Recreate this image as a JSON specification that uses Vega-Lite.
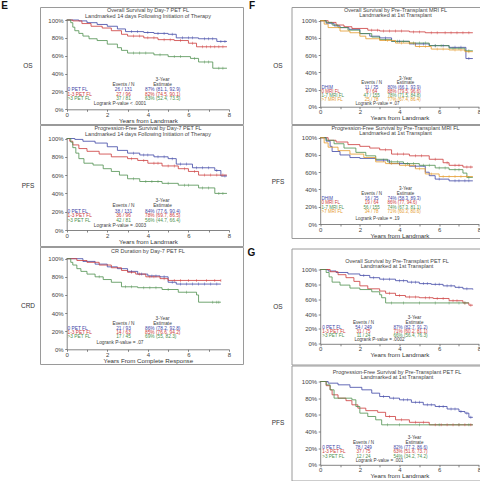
{
"$schema": "https://vega.github.io/schema/vega-lite/v6.json",
"autosize": {"type": "pad"},
"padding": {"left": 1, "top": 0, "right": 0, "bottom": 0},
"background": "white",
"config": {
  "font": "Liberation Sans",
  "view": {"stroke": "#9a9a9a", "strokeWidth": 1},
  "axis": {"grid": false, "labelFontSize": 6, "labelColor": "#444", "tickColor": "#666", "domainColor": "#666", "tickSize": 2, "domainWidth": 0.8, "tickWidth": 0.8, "titleFontSize": 6.2, "titleFontWeight": "normal", "titleColor": "#333", "labelFlush": false, "labelOverlap": false, "labelFont": "Liberation Sans", "titleFont": "Liberation Sans"},
  "axisX": {"labelPadding": 0, "titlePadding": 0},
  "axisY": {"labelPadding": 1.5},
  "title": {"fontWeight": "bold", "color": "#111", "font": "Liberation Sans", "fontSize": 10},
  "text": {"font": "Liberation Sans"},
  "concat": {"spacing": 0}
},
"datasets": {
"ttl": [
{"p":"EOS","ln":1,"txt":"Overall Survival by Day-7 PET FL"},{"p":"EOS","ln":2,"txt":"Landmarked 14 days Following Initiation of Therapy"},
{"p":"EPFS","ln":1,"txt":"Progression-Free Survival by Day-7 PET FL"},{"p":"EPFS","ln":2,"txt":"Landmarked 14 days Following Initiation of Therapy"},
{"p":"ECRD","ln":1,"txt":"CR Duration by Day-7 PET FL"},
{"p":"FOS","ln":1,"txt":"Overall Survival by Pre-Transplant MRI FL"},{"p":"FOS","ln":2,"txt":"Landmarked at 1st Transplant"},
{"p":"FPFS","ln":1,"txt":"Progression-Free Survival by Pre-Transplant MRI FL"},{"p":"FPFS","ln":2,"txt":"Landmarked at 1st Transplant"},
{"p":"GOS","ln":1,"txt":"Overall Survival by Pre-Transplant PET FL"},{"p":"GOS","ln":2,"txt":"Landmarked at 1st Transplant"},
{"p":"GPFS","ln":1,"txt":"Progression-Free Survival by Pre-Transplant PET FL"},{"p":"GPFS","ln":2,"txt":"Landmarked at 1st Transplant"}
],
"km": [
{"p":"EOS","g":"0 PET FL","t":0,"s":100},{"p":"EOS","g":"0 PET FL","t":0.6,"s":99},{"p":"EOS","g":"0 PET FL","t":1.0,"s":97},{"p":"EOS","g":"0 PET FL","t":1.5,"s":95},{"p":"EOS","g":"0 PET FL","t":2.0,"s":93},{"p":"EOS","g":"0 PET FL","t":2.5,"s":90},{"p":"EOS","g":"0 PET FL","t":2.9,"s":87},{"p":"EOS","g":"0 PET FL","t":3.8,"s":86},{"p":"EOS","g":"0 PET FL","t":4.3,"s":85},{"p":"EOS","g":"0 PET FL","t":5.0,"s":84},{"p":"EOS","g":"0 PET FL","t":5.4,"s":80},{"p":"EOS","g":"0 PET FL","t":6.5,"s":79},{"p":"EOS","g":"0 PET FL","t":7.4,"s":76},{"p":"EOS","g":"0 PET FL","t":7.9,"s":76},
{"p":"EOS","g":"1-3 PET FL","t":0,"s":100},{"p":"EOS","g":"1-3 PET FL","t":0.3,"s":99},{"p":"EOS","g":"1-3 PET FL","t":0.75,"s":96},{"p":"EOS","g":"1-3 PET FL","t":1.2,"s":93},{"p":"EOS","g":"1-3 PET FL","t":1.75,"s":91},{"p":"EOS","g":"1-3 PET FL","t":2.2,"s":88},{"p":"EOS","g":"1-3 PET FL","t":2.7,"s":84},{"p":"EOS","g":"1-3 PET FL","t":3.0,"s":82},{"p":"EOS","g":"1-3 PET FL","t":3.8,"s":80},{"p":"EOS","g":"1-3 PET FL","t":4.5,"s":78},{"p":"EOS","g":"1-3 PET FL","t":5.3,"s":77},{"p":"EOS","g":"1-3 PET FL","t":6.0,"s":74},{"p":"EOS","g":"1-3 PET FL","t":6.4,"s":70},{"p":"EOS","g":"1-3 PET FL","t":7.9,"s":70},
{"p":"EOS","g":">3 PET FL","t":0,"s":100},{"p":"EOS","g":">3 PET FL","t":0.2,"s":97},{"p":"EOS","g":">3 PET FL","t":0.3,"s":92},{"p":"EOS","g":">3 PET FL","t":0.4,"s":88},{"p":"EOS","g":">3 PET FL","t":0.6,"s":85},{"p":"EOS","g":">3 PET FL","t":0.8,"s":82},{"p":"EOS","g":">3 PET FL","t":1.1,"s":79},{"p":"EOS","g":">3 PET FL","t":1.5,"s":77},{"p":"EOS","g":">3 PET FL","t":2.0,"s":73},{"p":"EOS","g":">3 PET FL","t":2.5,"s":69},{"p":"EOS","g":">3 PET FL","t":2.7,"s":66},{"p":"EOS","g":">3 PET FL","t":3.0,"s":63},{"p":"EOS","g":">3 PET FL","t":4.3,"s":61},{"p":"EOS","g":">3 PET FL","t":5.0,"s":59},{"p":"EOS","g":">3 PET FL","t":6.1,"s":57},{"p":"EOS","g":">3 PET FL","t":6.5,"s":53},{"p":"EOS","g":">3 PET FL","t":7.2,"s":46},{"p":"EOS","g":">3 PET FL","t":7.9,"s":46},
{"p":"EPFS","g":"0 PET FL","t":0,"s":100},{"p":"EPFS","g":"0 PET FL","t":0.4,"s":99},{"p":"EPFS","g":"0 PET FL","t":0.8,"s":97},{"p":"EPFS","g":"0 PET FL","t":1.4,"s":95},{"p":"EPFS","g":"0 PET FL","t":2.0,"s":91},{"p":"EPFS","g":"0 PET FL","t":2.5,"s":87},{"p":"EPFS","g":"0 PET FL","t":3.0,"s":84},{"p":"EPFS","g":"0 PET FL","t":3.6,"s":82},{"p":"EPFS","g":"0 PET FL","t":4.3,"s":80},{"p":"EPFS","g":"0 PET FL","t":5.0,"s":78},{"p":"EPFS","g":"0 PET FL","t":5.4,"s":72},{"p":"EPFS","g":"0 PET FL","t":6.2,"s":68},{"p":"EPFS","g":"0 PET FL","t":7.3,"s":65},{"p":"EPFS","g":"0 PET FL","t":7.6,"s":59},{"p":"EPFS","g":"0 PET FL","t":7.9,"s":59},
{"p":"EPFS","g":"1-3 PET FL","t":0,"s":100},{"p":"EPFS","g":"1-3 PET FL","t":0.15,"s":97},{"p":"EPFS","g":"1-3 PET FL","t":0.3,"s":93},{"p":"EPFS","g":"1-3 PET FL","t":0.6,"s":89},{"p":"EPFS","g":"1-3 PET FL","t":1.0,"s":86},{"p":"EPFS","g":"1-3 PET FL","t":1.6,"s":83},{"p":"EPFS","g":"1-3 PET FL","t":2.2,"s":80},{"p":"EPFS","g":"1-3 PET FL","t":3.0,"s":78},{"p":"EPFS","g":"1-3 PET FL","t":3.5,"s":76},{"p":"EPFS","g":"1-3 PET FL","t":4.0,"s":73},{"p":"EPFS","g":"1-3 PET FL","t":4.7,"s":70},{"p":"EPFS","g":"1-3 PET FL","t":5.5,"s":67},{"p":"EPFS","g":"1-3 PET FL","t":6.0,"s":64},{"p":"EPFS","g":"1-3 PET FL","t":6.5,"s":60},{"p":"EPFS","g":"1-3 PET FL","t":7.9,"s":60},
{"p":"EPFS","g":">3 PET FL","t":0,"s":100},{"p":"EPFS","g":">3 PET FL","t":0.2,"s":96},{"p":"EPFS","g":">3 PET FL","t":0.3,"s":90},{"p":"EPFS","g":">3 PET FL","t":0.45,"s":84},{"p":"EPFS","g":">3 PET FL","t":0.6,"s":78},{"p":"EPFS","g":">3 PET FL","t":0.85,"s":73},{"p":"EPFS","g":">3 PET FL","t":1.3,"s":71},{"p":"EPFS","g":">3 PET FL","t":1.8,"s":67},{"p":"EPFS","g":">3 PET FL","t":2.2,"s":64},{"p":"EPFS","g":">3 PET FL","t":2.6,"s":60},{"p":"EPFS","g":">3 PET FL","t":3.0,"s":56},{"p":"EPFS","g":">3 PET FL","t":3.6,"s":53},{"p":"EPFS","g":">3 PET FL","t":4.7,"s":51},{"p":"EPFS","g":">3 PET FL","t":5.5,"s":49},{"p":"EPFS","g":">3 PET FL","t":6.5,"s":46},{"p":"EPFS","g":">3 PET FL","t":7.3,"s":40},{"p":"EPFS","g":">3 PET FL","t":7.9,"s":40},
{"p":"ECRD","g":"0 PET FL","t":0,"s":100},{"p":"ECRD","g":"0 PET FL","t":0.8,"s":97},{"p":"ECRD","g":"0 PET FL","t":1.4,"s":94},{"p":"ECRD","g":"0 PET FL","t":2.0,"s":91},{"p":"ECRD","g":"0 PET FL","t":2.5,"s":89},{"p":"ECRD","g":"0 PET FL","t":3.0,"s":86},{"p":"ECRD","g":"0 PET FL","t":3.5,"s":83},{"p":"ECRD","g":"0 PET FL","t":4.0,"s":81},{"p":"ECRD","g":"0 PET FL","t":4.6,"s":80},{"p":"ECRD","g":"0 PET FL","t":5.0,"s":74},{"p":"ECRD","g":"0 PET FL","t":5.4,"s":72},{"p":"ECRD","g":"0 PET FL","t":7.6,"s":72},
{"p":"ECRD","g":"1-3 PET FL","t":0,"s":100},{"p":"ECRD","g":"1-3 PET FL","t":0.5,"s":98},{"p":"ECRD","g":"1-3 PET FL","t":1.0,"s":96},{"p":"ECRD","g":"1-3 PET FL","t":1.6,"s":93},{"p":"ECRD","g":"1-3 PET FL","t":2.2,"s":90},{"p":"ECRD","g":"1-3 PET FL","t":2.7,"s":87},{"p":"ECRD","g":"1-3 PET FL","t":3.0,"s":85},{"p":"ECRD","g":"1-3 PET FL","t":3.4,"s":83},{"p":"ECRD","g":"1-3 PET FL","t":3.9,"s":80},{"p":"ECRD","g":"1-3 PET FL","t":4.6,"s":78},{"p":"ECRD","g":"1-3 PET FL","t":5.0,"s":76},{"p":"ECRD","g":"1-3 PET FL","t":7.6,"s":76},
{"p":"ECRD","g":">3 PET FL","t":0,"s":100},{"p":"ECRD","g":">3 PET FL","t":0.2,"s":96},{"p":"ECRD","g":">3 PET FL","t":0.3,"s":93},{"p":"ECRD","g":">3 PET FL","t":0.5,"s":89},{"p":"ECRD","g":">3 PET FL","t":0.7,"s":86},{"p":"ECRD","g":">3 PET FL","t":1.0,"s":83},{"p":"ECRD","g":">3 PET FL","t":1.4,"s":80},{"p":"ECRD","g":">3 PET FL","t":1.8,"s":77},{"p":"ECRD","g":">3 PET FL","t":2.2,"s":74},{"p":"ECRD","g":">3 PET FL","t":2.7,"s":69},{"p":"ECRD","g":">3 PET FL","t":3.5,"s":68},{"p":"ECRD","g":">3 PET FL","t":4.7,"s":66},{"p":"ECRD","g":">3 PET FL","t":5.5,"s":63},{"p":"ECRD","g":">3 PET FL","t":6.4,"s":60},{"p":"ECRD","g":">3 PET FL","t":6.5,"s":52},{"p":"ECRD","g":">3 PET FL","t":7.6,"s":52},
{"p":"FOS","g":"DHIM","t":0,"s":100},{"p":"FOS","g":"DHIM","t":0.3,"s":97},{"p":"FOS","g":"DHIM","t":0.7,"s":94},{"p":"FOS","g":"DHIM","t":1.0,"s":92},{"p":"FOS","g":"DHIM","t":1.45,"s":90},{"p":"FOS","g":"DHIM","t":2.0,"s":85},{"p":"FOS","g":"DHIM","t":2.5,"s":82},{"p":"FOS","g":"DHIM","t":3.0,"s":80},{"p":"FOS","g":"DHIM","t":3.6,"s":76},{"p":"FOS","g":"DHIM","t":4.5,"s":73},{"p":"FOS","g":"DHIM","t":5.5,"s":71},{"p":"FOS","g":"DHIM","t":6.5,"s":69},{"p":"FOS","g":"DHIM","t":7.35,"s":56},{"p":"FOS","g":"DHIM","t":7.7,"s":56},
{"p":"FOS","g":"0 MRI FL","t":0,"s":100},{"p":"FOS","g":"0 MRI FL","t":0.4,"s":98},{"p":"FOS","g":"0 MRI FL","t":0.8,"s":95},{"p":"FOS","g":"0 MRI FL","t":1.2,"s":93},{"p":"FOS","g":"0 MRI FL","t":1.6,"s":91},{"p":"FOS","g":"0 MRI FL","t":2.4,"s":89},{"p":"FOS","g":"0 MRI FL","t":3.0,"s":88},{"p":"FOS","g":"0 MRI FL","t":4.5,"s":87},{"p":"FOS","g":"0 MRI FL","t":5.3,"s":86},{"p":"FOS","g":"0 MRI FL","t":7.7,"s":86},
{"p":"FOS","g":"1-7 MRI FL","t":0,"s":100},{"p":"FOS","g":"1-7 MRI FL","t":0.3,"s":98},{"p":"FOS","g":"1-7 MRI FL","t":0.6,"s":95},{"p":"FOS","g":"1-7 MRI FL","t":0.9,"s":92},{"p":"FOS","g":"1-7 MRI FL","t":1.4,"s":89},{"p":"FOS","g":"1-7 MRI FL","t":2.0,"s":85},{"p":"FOS","g":"1-7 MRI FL","t":2.6,"s":81},{"p":"FOS","g":"1-7 MRI FL","t":3.0,"s":78},{"p":"FOS","g":"1-7 MRI FL","t":3.6,"s":76},{"p":"FOS","g":"1-7 MRI FL","t":4.5,"s":74},{"p":"FOS","g":"1-7 MRI FL","t":5.5,"s":71},{"p":"FOS","g":"1-7 MRI FL","t":6.5,"s":68},{"p":"FOS","g":"1-7 MRI FL","t":7.3,"s":65},{"p":"FOS","g":"1-7 MRI FL","t":7.7,"s":65},
{"p":"FOS","g":">7 MRI FL","t":0,"s":100},{"p":"FOS","g":">7 MRI FL","t":0.2,"s":96},{"p":"FOS","g":">7 MRI FL","t":0.4,"s":92},{"p":"FOS","g":">7 MRI FL","t":1.0,"s":88},{"p":"FOS","g":">7 MRI FL","t":1.5,"s":86},{"p":"FOS","g":">7 MRI FL","t":2.0,"s":82},{"p":"FOS","g":">7 MRI FL","t":2.3,"s":79},{"p":"FOS","g":">7 MRI FL","t":3.0,"s":77},{"p":"FOS","g":">7 MRI FL","t":3.8,"s":74},{"p":"FOS","g":">7 MRI FL","t":4.8,"s":70},{"p":"FOS","g":">7 MRI FL","t":5.6,"s":67},{"p":"FOS","g":">7 MRI FL","t":6.5,"s":66},{"p":"FOS","g":">7 MRI FL","t":7.3,"s":64},{"p":"FOS","g":">7 MRI FL","t":7.7,"s":64},
{"p":"FPFS","g":"0 MRI FL","t":0,"s":100},{"p":"FPFS","g":"0 MRI FL","t":0.4,"s":97},{"p":"FPFS","g":"0 MRI FL","t":0.8,"s":95},{"p":"FPFS","g":"0 MRI FL","t":1.4,"s":92},{"p":"FPFS","g":"0 MRI FL","t":2.0,"s":90},{"p":"FPFS","g":"0 MRI FL","t":2.5,"s":88},{"p":"FPFS","g":"0 MRI FL","t":3.0,"s":86},{"p":"FPFS","g":"0 MRI FL","t":3.6,"s":81},{"p":"FPFS","g":"0 MRI FL","t":4.5,"s":79},{"p":"FPFS","g":"0 MRI FL","t":5.5,"s":75},{"p":"FPFS","g":"0 MRI FL","t":6.2,"s":71},{"p":"FPFS","g":"0 MRI FL","t":6.5,"s":68},{"p":"FPFS","g":"0 MRI FL","t":7.2,"s":66},{"p":"FPFS","g":"0 MRI FL","t":7.7,"s":66},
{"p":"FPFS","g":"DHIM","t":0,"s":100},{"p":"FPFS","g":"DHIM","t":0.3,"s":96},{"p":"FPFS","g":"DHIM","t":0.5,"s":90},{"p":"FPFS","g":"DHIM","t":0.6,"s":84},{"p":"FPFS","g":"DHIM","t":1.0,"s":80},{"p":"FPFS","g":"DHIM","t":1.5,"s":77},{"p":"FPFS","g":"DHIM","t":2.0,"s":76},{"p":"FPFS","g":"DHIM","t":2.8,"s":74},{"p":"FPFS","g":"DHIM","t":3.5,"s":70},{"p":"FPFS","g":"DHIM","t":4.5,"s":67},{"p":"FPFS","g":"DHIM","t":5.3,"s":60},{"p":"FPFS","g":"DHIM","t":5.5,"s":56},{"p":"FPFS","g":"DHIM","t":5.8,"s":52},{"p":"FPFS","g":"DHIM","t":6.5,"s":50},{"p":"FPFS","g":"DHIM","t":7.7,"s":50},
{"p":"FPFS","g":"1-7 MRI FL","t":0,"s":100},{"p":"FPFS","g":"1-7 MRI FL","t":0.3,"s":97},{"p":"FPFS","g":"1-7 MRI FL","t":0.7,"s":93},{"p":"FPFS","g":"1-7 MRI FL","t":1.2,"s":88},{"p":"FPFS","g":"1-7 MRI FL","t":1.8,"s":83},{"p":"FPFS","g":"1-7 MRI FL","t":2.3,"s":79},{"p":"FPFS","g":"1-7 MRI FL","t":2.8,"s":75},{"p":"FPFS","g":"1-7 MRI FL","t":3.4,"s":72},{"p":"FPFS","g":"1-7 MRI FL","t":4.2,"s":70},{"p":"FPFS","g":"1-7 MRI FL","t":5.0,"s":68},{"p":"FPFS","g":"1-7 MRI FL","t":5.8,"s":65},{"p":"FPFS","g":"1-7 MRI FL","t":6.5,"s":63},{"p":"FPFS","g":"1-7 MRI FL","t":7.2,"s":59},{"p":"FPFS","g":"1-7 MRI FL","t":7.4,"s":54},{"p":"FPFS","g":"1-7 MRI FL","t":7.7,"s":54},
{"p":"FPFS","g":">7 MRI FL","t":0,"s":100},{"p":"FPFS","g":">7 MRI FL","t":0.2,"s":94},{"p":"FPFS","g":">7 MRI FL","t":0.4,"s":89},{"p":"FPFS","g":">7 MRI FL","t":0.9,"s":85},{"p":"FPFS","g":">7 MRI FL","t":1.5,"s":81},{"p":"FPFS","g":">7 MRI FL","t":2.2,"s":77},{"p":"FPFS","g":">7 MRI FL","t":2.8,"s":72},{"p":"FPFS","g":">7 MRI FL","t":3.3,"s":70},{"p":"FPFS","g":">7 MRI FL","t":4.0,"s":68},{"p":"FPFS","g":">7 MRI FL","t":4.8,"s":64},{"p":"FPFS","g":">7 MRI FL","t":5.3,"s":58},{"p":"FPFS","g":">7 MRI FL","t":6.0,"s":55},{"p":"FPFS","g":">7 MRI FL","t":7.7,"s":55},
{"p":"GOS","g":"0 PET FL","t":0,"s":100},{"p":"GOS","g":"0 PET FL","t":0.4,"s":98},{"p":"GOS","g":"0 PET FL","t":0.8,"s":96},{"p":"GOS","g":"0 PET FL","t":1.4,"s":94},{"p":"GOS","g":"0 PET FL","t":2.0,"s":92},{"p":"GOS","g":"0 PET FL","t":2.5,"s":89},{"p":"GOS","g":"0 PET FL","t":3.0,"s":87},{"p":"GOS","g":"0 PET FL","t":3.8,"s":85},{"p":"GOS","g":"0 PET FL","t":4.4,"s":83},{"p":"GOS","g":"0 PET FL","t":5.0,"s":81},{"p":"GOS","g":"0 PET FL","t":5.6,"s":80},{"p":"GOS","g":"0 PET FL","t":6.2,"s":78},{"p":"GOS","g":"0 PET FL","t":6.8,"s":76},{"p":"GOS","g":"0 PET FL","t":7.2,"s":74},{"p":"GOS","g":"0 PET FL","t":7.7,"s":73},
{"p":"GOS","g":"1-3 PET FL","t":0,"s":100},{"p":"GOS","g":"1-3 PET FL","t":0.5,"s":97},{"p":"GOS","g":"1-3 PET FL","t":0.9,"s":93},{"p":"GOS","g":"1-3 PET FL","t":1.3,"s":89},{"p":"GOS","g":"1-3 PET FL","t":1.7,"s":84},{"p":"GOS","g":"1-3 PET FL","t":2.0,"s":78},{"p":"GOS","g":"1-3 PET FL","t":2.4,"s":74},{"p":"GOS","g":"1-3 PET FL","t":3.0,"s":71},{"p":"GOS","g":"1-3 PET FL","t":3.3,"s":68},{"p":"GOS","g":"1-3 PET FL","t":3.8,"s":65},{"p":"GOS","g":"1-3 PET FL","t":4.3,"s":63},{"p":"GOS","g":"1-3 PET FL","t":5.0,"s":62},{"p":"GOS","g":"1-3 PET FL","t":5.7,"s":61},{"p":"GOS","g":"1-3 PET FL","t":6.5,"s":58},{"p":"GOS","g":"1-3 PET FL","t":7.2,"s":55},{"p":"GOS","g":"1-3 PET FL","t":7.5,"s":52},{"p":"GOS","g":"1-3 PET FL","t":7.7,"s":52},
{"p":"GOS","g":">3 PET FL","t":0,"s":100},{"p":"GOS","g":">3 PET FL","t":0.3,"s":96},{"p":"GOS","g":">3 PET FL","t":0.45,"s":90},{"p":"GOS","g":">3 PET FL","t":0.6,"s":83},{"p":"GOS","g":">3 PET FL","t":1.0,"s":79},{"p":"GOS","g":">3 PET FL","t":1.5,"s":75},{"p":"GOS","g":">3 PET FL","t":2.0,"s":73},{"p":"GOS","g":">3 PET FL","t":2.6,"s":70},{"p":"GOS","g":">3 PET FL","t":3.0,"s":66},{"p":"GOS","g":">3 PET FL","t":3.1,"s":62},{"p":"GOS","g":">3 PET FL","t":3.3,"s":55},{"p":"GOS","g":">3 PET FL","t":7.5,"s":55},
{"p":"GPFS","g":"0 PET FL","t":0,"s":100},{"p":"GPFS","g":"0 PET FL","t":0.4,"s":98},{"p":"GPFS","g":"0 PET FL","t":0.9,"s":96},{"p":"GPFS","g":"0 PET FL","t":1.5,"s":93},{"p":"GPFS","g":"0 PET FL","t":2.1,"s":90},{"p":"GPFS","g":"0 PET FL","t":2.6,"s":86},{"p":"GPFS","g":"0 PET FL","t":3.0,"s":82},{"p":"GPFS","g":"0 PET FL","t":3.5,"s":80},{"p":"GPFS","g":"0 PET FL","t":4.0,"s":78},{"p":"GPFS","g":"0 PET FL","t":4.6,"s":75},{"p":"GPFS","g":"0 PET FL","t":5.2,"s":72},{"p":"GPFS","g":"0 PET FL","t":5.8,"s":70},{"p":"GPFS","g":"0 PET FL","t":6.4,"s":67},{"p":"GPFS","g":"0 PET FL","t":7.0,"s":64},{"p":"GPFS","g":"0 PET FL","t":7.3,"s":62},{"p":"GPFS","g":"0 PET FL","t":7.5,"s":57},{"p":"GPFS","g":"0 PET FL","t":7.7,"s":57},
{"p":"GPFS","g":"1-3 PET FL","t":0,"s":100},{"p":"GPFS","g":"1-3 PET FL","t":0.3,"s":95},{"p":"GPFS","g":"1-3 PET FL","t":0.5,"s":90},{"p":"GPFS","g":"1-3 PET FL","t":0.6,"s":84},{"p":"GPFS","g":"1-3 PET FL","t":0.9,"s":80},{"p":"GPFS","g":"1-3 PET FL","t":1.3,"s":77},{"p":"GPFS","g":"1-3 PET FL","t":1.6,"s":72},{"p":"GPFS","g":"1-3 PET FL","t":1.9,"s":68},{"p":"GPFS","g":"1-3 PET FL","t":2.3,"s":65},{"p":"GPFS","g":"1-3 PET FL","t":2.9,"s":63},{"p":"GPFS","g":"1-3 PET FL","t":3.3,"s":58},{"p":"GPFS","g":"1-3 PET FL","t":3.8,"s":54},{"p":"GPFS","g":"1-3 PET FL","t":4.5,"s":51},{"p":"GPFS","g":"1-3 PET FL","t":5.5,"s":48},{"p":"GPFS","g":"1-3 PET FL","t":7.7,"s":48},
{"p":"GPFS","g":">3 PET FL","t":0,"s":100},{"p":"GPFS","g":">3 PET FL","t":0.3,"s":96},{"p":"GPFS","g":">3 PET FL","t":0.5,"s":90},{"p":"GPFS","g":">3 PET FL","t":0.7,"s":80},{"p":"GPFS","g":">3 PET FL","t":1.6,"s":78},{"p":"GPFS","g":">3 PET FL","t":1.8,"s":70},{"p":"GPFS","g":">3 PET FL","t":2.0,"s":62},{"p":"GPFS","g":">3 PET FL","t":2.4,"s":58},{"p":"GPFS","g":">3 PET FL","t":2.8,"s":54},{"p":"GPFS","g":">3 PET FL","t":3.1,"s":48},{"p":"GPFS","g":">3 PET FL","t":7.7,"s":48}
],
"cz": [
{"p":"EOS","g":"0 PET FL","t":3.2,"s":87},{"p":"EOS","g":"0 PET FL","t":3.5,"s":87},{"p":"EOS","g":"0 PET FL","t":4.0,"s":86},{"p":"EOS","g":"0 PET FL","t":4.5,"s":85},{"p":"EOS","g":"0 PET FL","t":4.8,"s":85},{"p":"EOS","g":"0 PET FL","t":5.2,"s":84},{"p":"EOS","g":"0 PET FL","t":5.7,"s":80},{"p":"EOS","g":"0 PET FL","t":6.0,"s":80},{"p":"EOS","g":"0 PET FL","t":6.2,"s":80},{"p":"EOS","g":"0 PET FL","t":6.8,"s":79},{"p":"EOS","g":"0 PET FL","t":7.0,"s":79},{"p":"EOS","g":"0 PET FL","t":7.2,"s":79},{"p":"EOS","g":"0 PET FL","t":7.6,"s":76},{"p":"EOS","g":"0 PET FL","t":7.8,"s":76},
{"p":"EOS","g":"1-3 PET FL","t":3.3,"s":82},{"p":"EOS","g":"1-3 PET FL","t":3.6,"s":82},{"p":"EOS","g":"1-3 PET FL","t":4.0,"s":80},{"p":"EOS","g":"1-3 PET FL","t":4.3,"s":80},{"p":"EOS","g":"1-3 PET FL","t":4.8,"s":78},{"p":"EOS","g":"1-3 PET FL","t":5.1,"s":78},{"p":"EOS","g":"1-3 PET FL","t":5.6,"s":77},{"p":"EOS","g":"1-3 PET FL","t":6.2,"s":74},{"p":"EOS","g":"1-3 PET FL","t":6.7,"s":70},{"p":"EOS","g":"1-3 PET FL","t":6.9,"s":70},{"p":"EOS","g":"1-3 PET FL","t":7.1,"s":70},{"p":"EOS","g":"1-3 PET FL","t":7.3,"s":70},{"p":"EOS","g":"1-3 PET FL","t":7.5,"s":70},{"p":"EOS","g":"1-3 PET FL","t":7.7,"s":70},
{"p":"EOS","g":">3 PET FL","t":3.3,"s":63},{"p":"EOS","g":">3 PET FL","t":3.6,"s":63},{"p":"EOS","g":">3 PET FL","t":3.9,"s":63},{"p":"EOS","g":">3 PET FL","t":4.6,"s":61},{"p":"EOS","g":">3 PET FL","t":5.3,"s":59},{"p":"EOS","g":">3 PET FL","t":5.6,"s":59},{"p":"EOS","g":">3 PET FL","t":6.3,"s":57},{"p":"EOS","g":">3 PET FL","t":6.8,"s":53},{"p":"EOS","g":">3 PET FL","t":7.0,"s":53},{"p":"EOS","g":">3 PET FL","t":7.5,"s":46},{"p":"EOS","g":">3 PET FL","t":7.7,"s":46},
{"p":"EPFS","g":"0 PET FL","t":3.3,"s":84},{"p":"EPFS","g":"0 PET FL","t":3.8,"s":82},{"p":"EPFS","g":"0 PET FL","t":4.0,"s":82},{"p":"EPFS","g":"0 PET FL","t":4.5,"s":80},{"p":"EPFS","g":"0 PET FL","t":4.8,"s":80},{"p":"EPFS","g":"0 PET FL","t":5.2,"s":78},{"p":"EPFS","g":"0 PET FL","t":5.6,"s":72},{"p":"EPFS","g":"0 PET FL","t":5.9,"s":72},{"p":"EPFS","g":"0 PET FL","t":6.4,"s":68},{"p":"EPFS","g":"0 PET FL","t":6.7,"s":68},{"p":"EPFS","g":"0 PET FL","t":7.0,"s":68},{"p":"EPFS","g":"0 PET FL","t":7.4,"s":65},{"p":"EPFS","g":"0 PET FL","t":7.8,"s":59},
{"p":"EPFS","g":"1-3 PET FL","t":3.2,"s":78},{"p":"EPFS","g":"1-3 PET FL","t":3.8,"s":76},{"p":"EPFS","g":"1-3 PET FL","t":4.3,"s":73},{"p":"EPFS","g":"1-3 PET FL","t":4.5,"s":73},{"p":"EPFS","g":"1-3 PET FL","t":5.0,"s":70},{"p":"EPFS","g":"1-3 PET FL","t":5.3,"s":70},{"p":"EPFS","g":"1-3 PET FL","t":5.8,"s":67},{"p":"EPFS","g":"1-3 PET FL","t":6.3,"s":64},{"p":"EPFS","g":"1-3 PET FL","t":6.8,"s":60},{"p":"EPFS","g":"1-3 PET FL","t":7.1,"s":60},{"p":"EPFS","g":"1-3 PET FL","t":7.4,"s":60},{"p":"EPFS","g":"1-3 PET FL","t":7.7,"s":60},
{"p":"EPFS","g":">3 PET FL","t":3.3,"s":56},{"p":"EPFS","g":">3 PET FL","t":3.9,"s":53},{"p":"EPFS","g":">3 PET FL","t":4.2,"s":53},{"p":"EPFS","g":">3 PET FL","t":4.5,"s":53},{"p":"EPFS","g":">3 PET FL","t":5.0,"s":51},{"p":"EPFS","g":">3 PET FL","t":5.8,"s":49},{"p":"EPFS","g":">3 PET FL","t":6.0,"s":49},{"p":"EPFS","g":">3 PET FL","t":6.7,"s":46},{"p":"EPFS","g":">3 PET FL","t":7.0,"s":46},{"p":"EPFS","g":">3 PET FL","t":7.5,"s":40},{"p":"EPFS","g":">3 PET FL","t":7.7,"s":40},
{"p":"ECRD","g":"0 PET FL","t":3.2,"s":86},{"p":"ECRD","g":"0 PET FL","t":3.7,"s":83},{"p":"ECRD","g":"0 PET FL","t":4.2,"s":81},{"p":"ECRD","g":"0 PET FL","t":4.4,"s":81},{"p":"ECRD","g":"0 PET FL","t":4.8,"s":80},{"p":"ECRD","g":"0 PET FL","t":5.2,"s":74},{"p":"ECRD","g":"0 PET FL","t":5.6,"s":72},{"p":"ECRD","g":"0 PET FL","t":5.9,"s":72},{"p":"ECRD","g":"0 PET FL","t":6.2,"s":72},{"p":"ECRD","g":"0 PET FL","t":6.5,"s":72},{"p":"ECRD","g":"0 PET FL","t":6.8,"s":72},{"p":"ECRD","g":"0 PET FL","t":7.1,"s":72},{"p":"ECRD","g":"0 PET FL","t":7.4,"s":72},
{"p":"ECRD","g":"1-3 PET FL","t":3.2,"s":85},{"p":"ECRD","g":"1-3 PET FL","t":3.6,"s":83},{"p":"ECRD","g":"1-3 PET FL","t":4.1,"s":80},{"p":"ECRD","g":"1-3 PET FL","t":4.3,"s":80},{"p":"ECRD","g":"1-3 PET FL","t":4.8,"s":78},{"p":"ECRD","g":"1-3 PET FL","t":5.3,"s":76},{"p":"ECRD","g":"1-3 PET FL","t":5.6,"s":76},{"p":"ECRD","g":"1-3 PET FL","t":6.0,"s":76},{"p":"ECRD","g":"1-3 PET FL","t":6.4,"s":76},{"p":"ECRD","g":"1-3 PET FL","t":6.9,"s":76},{"p":"ECRD","g":"1-3 PET FL","t":7.3,"s":76},{"p":"ECRD","g":"1-3 PET FL","t":7.6,"s":76},
{"p":"ECRD","g":">3 PET FL","t":1.6,"s":80},{"p":"ECRD","g":">3 PET FL","t":2.9,"s":69},{"p":"ECRD","g":">3 PET FL","t":3.2,"s":69},{"p":"ECRD","g":">3 PET FL","t":3.8,"s":68},{"p":"ECRD","g":">3 PET FL","t":4.1,"s":68},{"p":"ECRD","g":">3 PET FL","t":4.4,"s":68},{"p":"ECRD","g":">3 PET FL","t":5.0,"s":66},{"p":"ECRD","g":">3 PET FL","t":5.9,"s":63},{"p":"ECRD","g":">3 PET FL","t":7.2,"s":52},{"p":"ECRD","g":">3 PET FL","t":7.4,"s":52},{"p":"ECRD","g":">3 PET FL","t":7.5,"s":52},
{"p":"FOS","g":"DHIM","t":3.3,"s":80},{"p":"FOS","g":"DHIM","t":4.0,"s":76},{"p":"FOS","g":"DHIM","t":4.8,"s":73},{"p":"FOS","g":"DHIM","t":5.2,"s":73},{"p":"FOS","g":"DHIM","t":5.8,"s":71},{"p":"FOS","g":"DHIM","t":6.2,"s":71},{"p":"FOS","g":"DHIM","t":6.8,"s":69},{"p":"FOS","g":"DHIM","t":7.1,"s":69},{"p":"FOS","g":"DHIM","t":7.5,"s":56},
{"p":"FOS","g":"0 MRI FL","t":2.6,"s":89},{"p":"FOS","g":"0 MRI FL","t":2.9,"s":89},{"p":"FOS","g":"0 MRI FL","t":3.2,"s":88},{"p":"FOS","g":"0 MRI FL","t":3.5,"s":88},{"p":"FOS","g":"0 MRI FL","t":3.8,"s":88},{"p":"FOS","g":"0 MRI FL","t":4.1,"s":88},{"p":"FOS","g":"0 MRI FL","t":4.7,"s":87},{"p":"FOS","g":"0 MRI FL","t":5.0,"s":87},{"p":"FOS","g":"0 MRI FL","t":5.6,"s":86},{"p":"FOS","g":"0 MRI FL","t":5.9,"s":86},{"p":"FOS","g":"0 MRI FL","t":6.3,"s":86},{"p":"FOS","g":"0 MRI FL","t":6.6,"s":86},{"p":"FOS","g":"0 MRI FL","t":6.9,"s":86},{"p":"FOS","g":"0 MRI FL","t":7.2,"s":86},{"p":"FOS","g":"0 MRI FL","t":7.5,"s":86},
{"p":"FOS","g":"1-7 MRI FL","t":3.3,"s":78},{"p":"FOS","g":"1-7 MRI FL","t":3.9,"s":76},{"p":"FOS","g":"1-7 MRI FL","t":4.2,"s":76},{"p":"FOS","g":"1-7 MRI FL","t":4.7,"s":74},{"p":"FOS","g":"1-7 MRI FL","t":5.0,"s":74},{"p":"FOS","g":"1-7 MRI FL","t":5.3,"s":74},{"p":"FOS","g":"1-7 MRI FL","t":5.8,"s":71},{"p":"FOS","g":"1-7 MRI FL","t":6.1,"s":71},{"p":"FOS","g":"1-7 MRI FL","t":6.7,"s":68},{"p":"FOS","g":"1-7 MRI FL","t":7.0,"s":68},{"p":"FOS","g":"1-7 MRI FL","t":7.5,"s":65},
{"p":"FOS","g":">7 MRI FL","t":3.4,"s":77},{"p":"FOS","g":">7 MRI FL","t":4.1,"s":74},{"p":"FOS","g":">7 MRI FL","t":4.5,"s":74},{"p":"FOS","g":">7 MRI FL","t":5.0,"s":70},{"p":"FOS","g":">7 MRI FL","t":5.3,"s":70},{"p":"FOS","g":">7 MRI FL","t":5.9,"s":67},{"p":"FOS","g":">7 MRI FL","t":6.2,"s":67},{"p":"FOS","g":">7 MRI FL","t":6.8,"s":66},{"p":"FOS","g":">7 MRI FL","t":7.1,"s":66},{"p":"FOS","g":">7 MRI FL","t":7.5,"s":64},
{"p":"FPFS","g":"0 MRI FL","t":3.3,"s":86},{"p":"FPFS","g":"0 MRI FL","t":3.9,"s":81},{"p":"FPFS","g":"0 MRI FL","t":4.2,"s":81},{"p":"FPFS","g":"0 MRI FL","t":4.8,"s":79},{"p":"FPFS","g":"0 MRI FL","t":5.1,"s":79},{"p":"FPFS","g":"0 MRI FL","t":5.8,"s":75},{"p":"FPFS","g":"0 MRI FL","t":6.4,"s":71},{"p":"FPFS","g":"0 MRI FL","t":6.8,"s":68},{"p":"FPFS","g":"0 MRI FL","t":7.0,"s":68},{"p":"FPFS","g":"0 MRI FL","t":7.4,"s":66},{"p":"FPFS","g":"0 MRI FL","t":7.6,"s":66},
{"p":"FPFS","g":"DHIM","t":3.2,"s":74},{"p":"FPFS","g":"DHIM","t":4.0,"s":70},{"p":"FPFS","g":"DHIM","t":4.8,"s":67},{"p":"FPFS","g":"DHIM","t":6.0,"s":52},{"p":"FPFS","g":"DHIM","t":6.8,"s":50},{"p":"FPFS","g":"DHIM","t":7.0,"s":50},{"p":"FPFS","g":"DHIM","t":7.3,"s":50},{"p":"FPFS","g":"DHIM","t":7.5,"s":50},
{"p":"FPFS","g":"1-7 MRI FL","t":3.6,"s":72},{"p":"FPFS","g":"1-7 MRI FL","t":3.9,"s":72},{"p":"FPFS","g":"1-7 MRI FL","t":4.4,"s":70},{"p":"FPFS","g":"1-7 MRI FL","t":4.7,"s":70},{"p":"FPFS","g":"1-7 MRI FL","t":5.2,"s":68},{"p":"FPFS","g":"1-7 MRI FL","t":5.5,"s":68},{"p":"FPFS","g":"1-7 MRI FL","t":6.0,"s":65},{"p":"FPFS","g":"1-7 MRI FL","t":6.3,"s":65},{"p":"FPFS","g":"1-7 MRI FL","t":6.8,"s":63},{"p":"FPFS","g":"1-7 MRI FL","t":7.0,"s":63},{"p":"FPFS","g":"1-7 MRI FL","t":7.5,"s":54},
{"p":"FPFS","g":">7 MRI FL","t":3.6,"s":70},{"p":"FPFS","g":">7 MRI FL","t":4.3,"s":68},{"p":"FPFS","g":">7 MRI FL","t":4.5,"s":68},{"p":"FPFS","g":">7 MRI FL","t":5.0,"s":64},{"p":"FPFS","g":">7 MRI FL","t":5.6,"s":58},{"p":"FPFS","g":">7 MRI FL","t":6.2,"s":55},{"p":"FPFS","g":">7 MRI FL","t":6.5,"s":55},{"p":"FPFS","g":">7 MRI FL","t":6.8,"s":55},{"p":"FPFS","g":">7 MRI FL","t":7.1,"s":55},{"p":"FPFS","g":">7 MRI FL","t":7.4,"s":55},
{"p":"GOS","g":"0 PET FL","t":2.2,"s":92},{"p":"GOS","g":"0 PET FL","t":2.7,"s":89},{"p":"GOS","g":"0 PET FL","t":3.2,"s":87},{"p":"GOS","g":"0 PET FL","t":3.5,"s":87},{"p":"GOS","g":"0 PET FL","t":4.0,"s":85},{"p":"GOS","g":"0 PET FL","t":4.2,"s":85},{"p":"GOS","g":"0 PET FL","t":4.6,"s":83},{"p":"GOS","g":"0 PET FL","t":4.8,"s":83},{"p":"GOS","g":"0 PET FL","t":5.2,"s":81},{"p":"GOS","g":"0 PET FL","t":5.4,"s":81},{"p":"GOS","g":"0 PET FL","t":5.8,"s":80},{"p":"GOS","g":"0 PET FL","t":6.0,"s":80},{"p":"GOS","g":"0 PET FL","t":6.4,"s":78},{"p":"GOS","g":"0 PET FL","t":6.6,"s":78},{"p":"GOS","g":"0 PET FL","t":7.0,"s":76},{"p":"GOS","g":"0 PET FL","t":7.4,"s":74},
{"p":"GOS","g":"1-3 PET FL","t":3.5,"s":68},{"p":"GOS","g":"1-3 PET FL","t":4.0,"s":65},{"p":"GOS","g":"1-3 PET FL","t":4.5,"s":63},{"p":"GOS","g":"1-3 PET FL","t":4.8,"s":63},{"p":"GOS","g":"1-3 PET FL","t":5.3,"s":62},{"p":"GOS","g":"1-3 PET FL","t":5.5,"s":62},{"p":"GOS","g":"1-3 PET FL","t":5.9,"s":61},{"p":"GOS","g":"1-3 PET FL","t":6.2,"s":61},{"p":"GOS","g":"1-3 PET FL","t":6.7,"s":58},{"p":"GOS","g":"1-3 PET FL","t":6.9,"s":58},{"p":"GOS","g":"1-3 PET FL","t":7.3,"s":55},{"p":"GOS","g":"1-3 PET FL","t":7.6,"s":52},
{"p":"GOS","g":">3 PET FL","t":3.6,"s":55},{"p":"GOS","g":">3 PET FL","t":4.2,"s":55},{"p":"GOS","g":">3 PET FL","t":5.0,"s":55},{"p":"GOS","g":">3 PET FL","t":5.8,"s":55},{"p":"GOS","g":">3 PET FL","t":6.5,"s":55},{"p":"GOS","g":">3 PET FL","t":7.0,"s":55},{"p":"GOS","g":">3 PET FL","t":7.3,"s":55},
{"p":"GPFS","g":"0 PET FL","t":3.2,"s":82},{"p":"GPFS","g":"0 PET FL","t":3.7,"s":80},{"p":"GPFS","g":"0 PET FL","t":4.2,"s":78},{"p":"GPFS","g":"0 PET FL","t":4.4,"s":78},{"p":"GPFS","g":"0 PET FL","t":4.8,"s":75},{"p":"GPFS","g":"0 PET FL","t":5.0,"s":75},{"p":"GPFS","g":"0 PET FL","t":5.4,"s":72},{"p":"GPFS","g":"0 PET FL","t":5.6,"s":72},{"p":"GPFS","g":"0 PET FL","t":6.0,"s":70},{"p":"GPFS","g":"0 PET FL","t":6.2,"s":70},{"p":"GPFS","g":"0 PET FL","t":6.6,"s":67},{"p":"GPFS","g":"0 PET FL","t":6.8,"s":67},{"p":"GPFS","g":"0 PET FL","t":7.1,"s":64},{"p":"GPFS","g":"0 PET FL","t":7.4,"s":62},{"p":"GPFS","g":"0 PET FL","t":7.6,"s":57},
{"p":"GPFS","g":"1-3 PET FL","t":3.5,"s":58},{"p":"GPFS","g":"1-3 PET FL","t":4.1,"s":54},{"p":"GPFS","g":"1-3 PET FL","t":4.8,"s":51},{"p":"GPFS","g":"1-3 PET FL","t":5.2,"s":51},{"p":"GPFS","g":"1-3 PET FL","t":5.8,"s":48},{"p":"GPFS","g":"1-3 PET FL","t":6.1,"s":48},{"p":"GPFS","g":"1-3 PET FL","t":6.4,"s":48},{"p":"GPFS","g":"1-3 PET FL","t":6.7,"s":48},{"p":"GPFS","g":"1-3 PET FL","t":7.0,"s":48},{"p":"GPFS","g":"1-3 PET FL","t":7.3,"s":48},{"p":"GPFS","g":"1-3 PET FL","t":7.6,"s":48},
{"p":"GPFS","g":">3 PET FL","t":3.4,"s":48},{"p":"GPFS","g":">3 PET FL","t":4.0,"s":48},{"p":"GPFS","g":">3 PET FL","t":5.0,"s":48},{"p":"GPFS","g":">3 PET FL","t":6.0,"s":48},{"p":"GPFS","g":">3 PET FL","t":7.0,"s":48},{"p":"GPFS","g":">3 PET FL","t":7.5,"s":48}
],
"tb": [
{"p":"EOS","g":"hdr","c":3,"r":0,"txt":"3-Year"},{"p":"EOS","g":"hdr","c":1,"r":1,"txt":"Events / N"},{"p":"EOS","g":"hdr","c":3,"r":1,"txt":"Estimate"},
{"p":"EOS","g":"0 PET FL","c":0,"r":2,"txt":"0 PET FL"},{"p":"EOS","g":"0 PET FL","c":1,"r":2,"txt":"26 / 131"},{"p":"EOS","g":"0 PET FL","c":2,"r":2,"txt":"87%  (81.1, 92.9)"},
{"p":"EOS","g":"1-3 PET FL","c":0,"r":3,"txt":"1-3 PET FL"},{"p":"EOS","g":"1-3 PET FL","c":1,"r":3,"txt":"27 / 96"},{"p":"EOS","g":"1-3 PET FL","c":2,"r":3,"txt":"82%  (74.5, 90.1)"},
{"p":"EOS","g":">3 PET FL","c":0,"r":4,"txt":">3 PET FL"},{"p":"EOS","g":">3 PET FL","c":1,"r":4,"txt":"37 / 81"},{"p":"EOS","g":">3 PET FL","c":2,"r":4,"txt":"63%  (52.4, 73.5)"},
{"p":"EOS","g":"hdr","c":4,"r":5,"txt":"Logrank P-value < .0001"},
{"p":"EPFS","g":"hdr","c":3,"r":0,"txt":"3-Year"},{"p":"EPFS","g":"hdr","c":1,"r":1,"txt":"Events / N"},{"p":"EPFS","g":"hdr","c":3,"r":1,"txt":"Estimate"},
{"p":"EPFS","g":"0 PET FL","c":0,"r":2,"txt":"0 PET FL"},{"p":"EPFS","g":"0 PET FL","c":1,"r":2,"txt":"38 / 131"},{"p":"EPFS","g":"0 PET FL","c":2,"r":2,"txt":"84%  (77.6, 90.4)"},
{"p":"EPFS","g":"1-3 PET FL","c":0,"r":3,"txt":"1-3 PET FL"},{"p":"EPFS","g":"1-3 PET FL","c":1,"r":3,"txt":"36 / 96"},{"p":"EPFS","g":"1-3 PET FL","c":2,"r":3,"txt":"78%  (69.7, 86.5)"},
{"p":"EPFS","g":">3 PET FL","c":0,"r":4,"txt":">3 PET FL"},{"p":"EPFS","g":">3 PET FL","c":1,"r":4,"txt":"42 / 81"},{"p":"EPFS","g":">3 PET FL","c":2,"r":4,"txt":"56%  (44.7, 66.4)"},
{"p":"EPFS","g":"hdr","c":4,"r":5,"txt":"Logrank P-value = .0003"},
{"p":"ECRD","g":"hdr","c":3,"r":0,"txt":"3-Year"},{"p":"ECRD","g":"hdr","c":1,"r":1,"txt":"Events / N"},{"p":"ECRD","g":"hdr","c":3,"r":1,"txt":"Estimate"},
{"p":"ECRD","g":"0 PET FL","c":0,"r":2,"txt":"0 PET FL"},{"p":"ECRD","g":"0 PET FL","c":1,"r":2,"txt":"21 / 93"},{"p":"ECRD","g":"0 PET FL","c":2,"r":2,"txt":"86%  (78.2, 92.8)"},
{"p":"ECRD","g":"1-3 PET FL","c":0,"r":3,"txt":"1-3 PET FL"},{"p":"ECRD","g":"1-3 PET FL","c":1,"r":3,"txt":"14 / 63"},{"p":"ECRD","g":"1-3 PET FL","c":2,"r":3,"txt":"85%  (76.6, 94.2)"},
{"p":"ECRD","g":">3 PET FL","c":0,"r":4,"txt":">3 PET FL"},{"p":"ECRD","g":">3 PET FL","c":1,"r":4,"txt":"17 / 45"},{"p":"ECRD","g":">3 PET FL","c":2,"r":4,"txt":"69%  (55, 82.3)"},
{"p":"ECRD","g":"hdr","c":4,"r":5,"txt":"Logrank P-value = .07"},
{"p":"FOS","g":"hdr","c":3,"r":0,"txt":"3-Year"},{"p":"FOS","g":"hdr","c":1,"r":1,"txt":"Events / N"},{"p":"FOS","g":"hdr","c":3,"r":1,"txt":"Estimate"},
{"p":"FOS","g":"DHIM","c":0,"r":2,"txt":"DHIM"},{"p":"FOS","g":"DHIM","c":1,"r":2,"txt":"11 / 35"},{"p":"FOS","g":"DHIM","c":2,"r":2,"txt":"80%  (66.1, 93.9)"},
{"p":"FOS","g":"0 MRI FL","c":0,"r":3,"txt":"0 MRI FL"},{"p":"FOS","g":"0 MRI FL","c":1,"r":3,"txt":"9 / 64"},{"p":"FOS","g":"0 MRI FL","c":2,"r":3,"txt":"88%  (79.5, 96.6)"},
{"p":"FOS","g":"1-7 MRI FL","c":0,"r":4,"txt":"1-7 MRI FL"},{"p":"FOS","g":"1-7 MRI FL","c":1,"r":4,"txt":"47 / 155"},{"p":"FOS","g":"1-7 MRI FL","c":2,"r":4,"txt":"78%  (71.5, 84.8)"},
{"p":"FOS","g":">7 MRI FL","c":0,"r":5,"txt":">7 MRI FL"},{"p":"FOS","g":">7 MRI FL","c":1,"r":5,"txt":"25 / 78"},{"p":"FOS","g":">7 MRI FL","c":2,"r":5,"txt":"77%  (67.4, 86.4)"},
{"p":"FOS","g":"hdr","c":4,"r":6,"txt":"Logrank P-value = .07"},
{"p":"FPFS","g":"hdr","c":3,"r":0,"txt":"3-Year"},{"p":"FPFS","g":"hdr","c":1,"r":1,"txt":"Events / N"},{"p":"FPFS","g":"hdr","c":3,"r":1,"txt":"Estimate"},
{"p":"FPFS","g":"DHIM","c":0,"r":2,"txt":"DHIM"},{"p":"FPFS","g":"DHIM","c":1,"r":2,"txt":"16 / 35"},{"p":"FPFS","g":"DHIM","c":2,"r":2,"txt":"74%  (58.3, 89.3)"},
{"p":"FPFS","g":"0 MRI FL","c":0,"r":3,"txt":"0 MRI FL"},{"p":"FPFS","g":"0 MRI FL","c":1,"r":3,"txt":"19 / 64"},{"p":"FPFS","g":"0 MRI FL","c":2,"r":3,"txt":"86%  (77, 94.6)"},
{"p":"FPFS","g":"1-7 MRI FL","c":0,"r":4,"txt":"1-7 MRI FL"},{"p":"FPFS","g":"1-7 MRI FL","c":1,"r":4,"txt":"56 / 155"},{"p":"FPFS","g":"1-7 MRI FL","c":2,"r":4,"txt":"74%  (67.3, 81.1)"},
{"p":"FPFS","g":">7 MRI FL","c":0,"r":5,"txt":">7 MRI FL"},{"p":"FPFS","g":">7 MRI FL","c":1,"r":5,"txt":"34 / 78"},{"p":"FPFS","g":">7 MRI FL","c":2,"r":5,"txt":"71%  (60.3, 80.6)"},
{"p":"FPFS","g":"hdr","c":4,"r":6,"txt":"Logrank P-value = .19"},
{"p":"GOS","g":"hdr","c":3,"r":0,"txt":"3-Year"},{"p":"GOS","g":"hdr","c":1,"r":1,"txt":"Events / N"},{"p":"GOS","g":"hdr","c":3,"r":1,"txt":"Estimate"},
{"p":"GOS","g":"0 PET FL","c":0,"r":2,"txt":"0 PET FL"},{"p":"GOS","g":"0 PET FL","c":1,"r":2,"txt":"54 / 249"},{"p":"GOS","g":"0 PET FL","c":2,"r":2,"txt":"87%  (82.7, 91.2)"},
{"p":"GOS","g":"1-3 PET FL","c":0,"r":3,"txt":"1-3 PET FL"},{"p":"GOS","g":"1-3 PET FL","c":1,"r":3,"txt":"31 / 75"},{"p":"GOS","g":"1-3 PET FL","c":2,"r":3,"txt":"71%  (60.2, 81.1)"},
{"p":"GOS","g":">3 PET FL","c":0,"r":4,"txt":">3 PET FL"},{"p":"GOS","g":">3 PET FL","c":1,"r":4,"txt":"11 / 24"},{"p":"GOS","g":">3 PET FL","c":2,"r":4,"txt":"66%  (56.4, 76.3)"},
{"p":"GOS","g":"hdr","c":4,"r":5,"txt":"Logrank P-value = .0002"},
{"p":"GPFS","g":"hdr","c":3,"r":0,"txt":"3-Year"},{"p":"GPFS","g":"hdr","c":1,"r":1,"txt":"Events / N"},{"p":"GPFS","g":"hdr","c":3,"r":1,"txt":"Estimate"},
{"p":"GPFS","g":"0 PET FL","c":0,"r":2,"txt":"0 PET FL"},{"p":"GPFS","g":"0 PET FL","c":1,"r":2,"txt":"78 / 249"},{"p":"GPFS","g":"0 PET FL","c":2,"r":2,"txt":"82%  (77.2, 86.6)"},
{"p":"GPFS","g":"1-3 PET FL","c":0,"r":3,"txt":"1-3 PET FL"},{"p":"GPFS","g":"1-3 PET FL","c":1,"r":3,"txt":"37 / 75"},{"p":"GPFS","g":"1-3 PET FL","c":2,"r":3,"txt":"63%  (51.6, 73.7)"},
{"p":"GPFS","g":">3 PET FL","c":0,"r":4,"txt":">3 PET FL"},{"p":"GPFS","g":">3 PET FL","c":1,"r":4,"txt":"12 / 24"},{"p":"GPFS","g":">3 PET FL","c":2,"r":4,"txt":"54%  (34.2, 74.2)"},
{"p":"GPFS","g":"hdr","c":4,"r":5,"txt":"Logrank P-value = .001"}
]
},
"hconcat": [
 {"title": {"text": "E", "orient": "left", "anchor": "end", "angle": 0, "align": "right", "baseline": "top", "offset": 1.5, "dy": -6.5, "frame": "group"},
  "vconcat": [
  {"hconcat": [
   {"width": 24, "height": 117, "data": {"values": [{"lab": "OS"}]}, "mark": {"type": "text", "fontSize": 6.5, "color": "#333"}, "encoding": {"text": {"field": "lab"}}},
   {"width": 203, "height": 117,
    "layer": [
     {"data": {"name": "ttl"}, "transform": [{"filter": "datum.p == 'EOS'"}], "mark": {"type": "text", "fontSize": 5.5, "dx": 6.5, "baseline": "middle", "align": "center", "color": "#444"},
      "encoding": {"y": {"field": "ln", "type": "quantitative", "scale": {"domain": [1, 2], "range": [2.8, 8.5], "nice": false, "zero": false}, "axis": null}, "text": {"field": "txt"}}},
     {"data": {"name": "km"}, "transform": [{"filter": "datum.p == 'EOS'"}], "mark": {"type": "line", "interpolate": "step-after", "strokeWidth": 0.8},
      "encoding": {"x": {"field": "t", "type": "quantitative", "scale": {"domain": [0, 8], "range": [26.7, 189], "nice": false, "zero": false}, "axis": {"values": [0,1,2,3,4,5,6,7,8], "labelExpr": "datum.value % 2 == 0 ? datum.label : ''", "title": "Years from Landmark", "offset": -14.7}},
       "y": {"field": "s", "type": "quantitative", "scale": {"domain": [0, 100], "range": [102.3, 13], "nice": false, "zero": false}, "axis": {"values": [0,20,40,60,80,100], "labelExpr": "datum.value + '%'", "title": null, "offset": -26.7}},
       "color": {"field": "g", "type": "nominal", "scale": {"domain": ["0 PET FL","1-3 PET FL",">3 PET FL","DHIM","0 MRI FL","1-7 MRI FL",">7 MRI FL","hdr"], "range": ["#3d45a5","#cc3a3a","#4e8f4e","#3d45a5","#cc3a3a","#4e8f4e","#e59a2c","#404040"]}, "legend": null}}},
     {"data": {"name": "cz"}, "transform": [{"filter": "datum.p == 'EOS'"}], "mark": {"type": "tick", "orient": "vertical", "size": 3, "thickness": 0.6},
      "encoding": {"x": {"field": "t", "type": "quantitative", "scale": {"domain": [0, 8], "range": [26.7, 189], "nice": false, "zero": false}, "axis": null},
       "y": {"field": "s", "type": "quantitative", "scale": {"domain": [0, 100], "range": [102.3, 13], "nice": false, "zero": false}, "axis": null},
       "color": {"field": "g", "type": "nominal", "scale": {"domain": ["0 PET FL","1-3 PET FL",">3 PET FL","DHIM","0 MRI FL","1-7 MRI FL",">7 MRI FL","hdr"], "range": ["#3d45a5","#cc3a3a","#4e8f4e","#3d45a5","#cc3a3a","#4e8f4e","#e59a2c","#404040"]}, "legend": null}}},
     {"data": {"name": "tb"}, "transform": [{"filter": "datum.p == 'EOS' && (datum.c == 0 || datum.c == 2)"}], "mark": {"type": "text", "align": "left", "baseline": "middle", "fontSize": 4.8},
      "encoding": {"x": {"field": "c", "type": "quantitative", "scale": {"domain": [0,1,2,3,4], "range": [27.5,83.5,105,122.5,80], "nice": false, "zero": false}, "axis": null},
       "y": {"field": "r", "type": "quantitative", "scale": {"domain": [0,1,2,3,4,5], "range": [73,78,83,87.7,92.3,97.3], "nice": false, "zero": false}, "axis": null},
       "text": {"field": "txt"},
       "color": {"field": "g", "type": "nominal", "scale": {"domain": ["0 PET FL","1-3 PET FL",">3 PET FL","DHIM","0 MRI FL","1-7 MRI FL",">7 MRI FL","hdr"], "range": ["#3d45a5","#cc3a3a","#4e8f4e","#3d45a5","#cc3a3a","#4e8f4e","#e59a2c","#404040"]}, "legend": null}}},
     {"data": {"name": "tb"}, "transform": [{"filter": "datum.p == 'EOS' && (datum.c == 1 || datum.c >= 3)"}], "mark": {"type": "text", "align": "center", "baseline": "middle", "fontSize": 4.8},
      "encoding": {"x": {"field": "c", "type": "quantitative", "scale": {"domain": [0,1,2,3,4], "range": [27.5,83.5,105,122.5,80], "nice": false, "zero": false}, "axis": null},
       "y": {"field": "r", "type": "quantitative", "scale": {"domain": [0,1,2,3,4,5], "range": [73,78,83,87.7,92.3,97.3], "nice": false, "zero": false}, "axis": null},
       "text": {"field": "txt"},
       "color": {"field": "g", "type": "nominal", "scale": {"domain": ["0 PET FL","1-3 PET FL",">3 PET FL","DHIM","0 MRI FL","1-7 MRI FL",">7 MRI FL","hdr"], "range": ["#3d45a5","#cc3a3a","#4e8f4e","#3d45a5","#cc3a3a","#4e8f4e","#e59a2c","#404040"]}, "legend": null}}}
    ],
    "resolve": {"scale": {"x": "independent", "y": "independent"}}}
  ], "spacing": 0, "bounds": "flush"},
  {"hconcat": [
   {"width": 24, "height": 121, "data": {"values": [{"lab": "PFS"}]}, "mark": {"type": "text", "fontSize": 6.5, "color": "#333"}, "encoding": {"text": {"field": "lab"}}},
   {"width": 203, "height": 121,
    "layer": [
     {"data": {"name": "ttl"}, "transform": [{"filter": "datum.p == 'EPFS'"}], "mark": {"type": "text", "fontSize": 5.5, "dx": 6.5, "baseline": "middle", "align": "center", "color": "#444"},
      "encoding": {"y": {"field": "ln", "type": "quantitative", "scale": {"domain": [1, 2], "range": [3, 8.8], "nice": false, "zero": false}, "axis": null}, "text": {"field": "txt"}}},
     {"data": {"name": "km"}, "transform": [{"filter": "datum.p == 'EPFS'"}], "mark": {"type": "line", "interpolate": "step-after", "strokeWidth": 0.8},
      "encoding": {"x": {"field": "t", "type": "quantitative", "scale": {"domain": [0, 8], "range": [26.7, 189], "nice": false, "zero": false}, "axis": {"values": [0,1,2,3,4,5,6,7,8], "labelExpr": "datum.value % 2 == 0 ? datum.label : ''", "title": "Years from Landmark", "offset": -16}},
       "y": {"field": "s", "type": "quantitative", "scale": {"domain": [0, 100], "range": [105, 13.5], "nice": false, "zero": false}, "axis": {"values": [0,20,40,60,80,100], "labelExpr": "datum.value + '%'", "title": null, "offset": -26.7}},
       "color": {"field": "g", "type": "nominal", "scale": {"domain": ["0 PET FL","1-3 PET FL",">3 PET FL","DHIM","0 MRI FL","1-7 MRI FL",">7 MRI FL","hdr"], "range": ["#3d45a5","#cc3a3a","#4e8f4e","#3d45a5","#cc3a3a","#4e8f4e","#e59a2c","#404040"]}, "legend": null}}},
     {"data": {"name": "cz"}, "transform": [{"filter": "datum.p == 'EPFS'"}], "mark": {"type": "tick", "orient": "vertical", "size": 3, "thickness": 0.6},
      "encoding": {"x": {"field": "t", "type": "quantitative", "scale": {"domain": [0, 8], "range": [26.7, 189], "nice": false, "zero": false}, "axis": null},
       "y": {"field": "s", "type": "quantitative", "scale": {"domain": [0, 100], "range": [105, 13.5], "nice": false, "zero": false}, "axis": null},
       "color": {"field": "g", "type": "nominal", "scale": {"domain": ["0 PET FL","1-3 PET FL",">3 PET FL","DHIM","0 MRI FL","1-7 MRI FL",">7 MRI FL","hdr"], "range": ["#3d45a5","#cc3a3a","#4e8f4e","#3d45a5","#cc3a3a","#4e8f4e","#e59a2c","#404040"]}, "legend": null}}},
     {"data": {"name": "tb"}, "transform": [{"filter": "datum.p == 'EPFS' && (datum.c == 0 || datum.c == 2)"}], "mark": {"type": "text", "align": "left", "baseline": "middle", "fontSize": 4.8},
      "encoding": {"x": {"field": "c", "type": "quantitative", "scale": {"domain": [0,1,2,3,4], "range": [27.5,83.5,105,122.5,80], "nice": false, "zero": false}, "axis": null},
       "y": {"field": "r", "type": "quantitative", "scale": {"domain": [0,1,2,3,4,5], "range": [76,81.2,86.7,91.2,95.7,100.5], "nice": false, "zero": false}, "axis": null},
       "text": {"field": "txt"},
       "color": {"field": "g", "type": "nominal", "scale": {"domain": ["0 PET FL","1-3 PET FL",">3 PET FL","DHIM","0 MRI FL","1-7 MRI FL",">7 MRI FL","hdr"], "range": ["#3d45a5","#cc3a3a","#4e8f4e","#3d45a5","#cc3a3a","#4e8f4e","#e59a2c","#404040"]}, "legend": null}}},
     {"data": {"name": "tb"}, "transform": [{"filter": "datum.p == 'EPFS' && (datum.c == 1 || datum.c >= 3)"}], "mark": {"type": "text", "align": "center", "baseline": "middle", "fontSize": 4.8},
      "encoding": {"x": {"field": "c", "type": "quantitative", "scale": {"domain": [0,1,2,3,4], "range": [27.5,83.5,105,122.5,80], "nice": false, "zero": false}, "axis": null},
       "y": {"field": "r", "type": "quantitative", "scale": {"domain": [0,1,2,3,4,5], "range": [76,81.2,86.7,91.2,95.7,100.5], "nice": false, "zero": false}, "axis": null},
       "text": {"field": "txt"},
       "color": {"field": "g", "type": "nominal", "scale": {"domain": ["0 PET FL","1-3 PET FL",">3 PET FL","DHIM","0 MRI FL","1-7 MRI FL",">7 MRI FL","hdr"], "range": ["#3d45a5","#cc3a3a","#4e8f4e","#3d45a5","#cc3a3a","#4e8f4e","#e59a2c","#404040"]}, "legend": null}}}
    ],
    "resolve": {"scale": {"x": "independent", "y": "independent"}}}
  ], "spacing": 0, "bounds": "flush"},
  {"hconcat": [
   {"width": 24, "height": 117, "data": {"values": [{"lab": "CRD"}]}, "mark": {"type": "text", "fontSize": 6.5, "color": "#333"}, "encoding": {"text": {"field": "lab"}}},
   {"width": 203, "height": 117,
    "layer": [
     {"data": {"name": "ttl"}, "transform": [{"filter": "datum.p == 'ECRD'"}], "mark": {"type": "text", "fontSize": 5.5, "dx": 6.5, "baseline": "middle", "align": "center", "color": "#444"},
      "encoding": {"y": {"field": "ln", "type": "quantitative", "scale": {"domain": [1, 2], "range": [4.3, 10.3], "nice": false, "zero": false}, "axis": null}, "text": {"field": "txt"}}},
     {"data": {"name": "km"}, "transform": [{"filter": "datum.p == 'ECRD'"}], "mark": {"type": "line", "interpolate": "step-after", "strokeWidth": 0.8},
      "encoding": {"x": {"field": "t", "type": "quantitative", "scale": {"domain": [0, 8], "range": [26.7, 189], "nice": false, "zero": false}, "axis": {"values": [0,1,2,3,4,5,6,7,8], "labelExpr": "datum.value % 2 == 0 ? datum.label : ''", "title": "Years From Complete Response", "offset": -14.7}},
       "y": {"field": "s", "type": "quantitative", "scale": {"domain": [0, 100], "range": [102.3, 11.7], "nice": false, "zero": false}, "axis": {"values": [0,20,40,60,80,100], "labelExpr": "datum.value + '%'", "title": null, "offset": -26.7}},
       "color": {"field": "g", "type": "nominal", "scale": {"domain": ["0 PET FL","1-3 PET FL",">3 PET FL","DHIM","0 MRI FL","1-7 MRI FL",">7 MRI FL","hdr"], "range": ["#3d45a5","#cc3a3a","#4e8f4e","#3d45a5","#cc3a3a","#4e8f4e","#e59a2c","#404040"]}, "legend": null}}},
     {"data": {"name": "cz"}, "transform": [{"filter": "datum.p == 'ECRD'"}], "mark": {"type": "tick", "orient": "vertical", "size": 3, "thickness": 0.6},
      "encoding": {"x": {"field": "t", "type": "quantitative", "scale": {"domain": [0, 8], "range": [26.7, 189], "nice": false, "zero": false}, "axis": null},
       "y": {"field": "s", "type": "quantitative", "scale": {"domain": [0, 100], "range": [102.3, 11.7], "nice": false, "zero": false}, "axis": null},
       "color": {"field": "g", "type": "nominal", "scale": {"domain": ["0 PET FL","1-3 PET FL",">3 PET FL","DHIM","0 MRI FL","1-7 MRI FL",">7 MRI FL","hdr"], "range": ["#3d45a5","#cc3a3a","#4e8f4e","#3d45a5","#cc3a3a","#4e8f4e","#e59a2c","#404040"]}, "legend": null}}},
     {"data": {"name": "tb"}, "transform": [{"filter": "datum.p == 'ECRD' && (datum.c == 0 || datum.c == 2)"}], "mark": {"type": "text", "align": "left", "baseline": "middle", "fontSize": 4.8},
      "encoding": {"x": {"field": "c", "type": "quantitative", "scale": {"domain": [0,1,2,3,4], "range": [27.5,83.5,105,122.5,80], "nice": false, "zero": false}, "axis": null},
       "y": {"field": "r", "type": "quantitative", "scale": {"domain": [0,1,2,3,4,5], "range": [71.7,77,81.7,85.9,90.1,96.3], "nice": false, "zero": false}, "axis": null},
       "text": {"field": "txt"},
       "color": {"field": "g", "type": "nominal", "scale": {"domain": ["0 PET FL","1-3 PET FL",">3 PET FL","DHIM","0 MRI FL","1-7 MRI FL",">7 MRI FL","hdr"], "range": ["#3d45a5","#cc3a3a","#4e8f4e","#3d45a5","#cc3a3a","#4e8f4e","#e59a2c","#404040"]}, "legend": null}}},
     {"data": {"name": "tb"}, "transform": [{"filter": "datum.p == 'ECRD' && (datum.c == 1 || datum.c >= 3)"}], "mark": {"type": "text", "align": "center", "baseline": "middle", "fontSize": 4.8},
      "encoding": {"x": {"field": "c", "type": "quantitative", "scale": {"domain": [0,1,2,3,4], "range": [27.5,83.5,105,122.5,80], "nice": false, "zero": false}, "axis": null},
       "y": {"field": "r", "type": "quantitative", "scale": {"domain": [0,1,2,3,4,5], "range": [71.7,77,81.7,85.9,90.1,96.3], "nice": false, "zero": false}, "axis": null},
       "text": {"field": "txt"},
       "color": {"field": "g", "type": "nominal", "scale": {"domain": ["0 PET FL","1-3 PET FL",">3 PET FL","DHIM","0 MRI FL","1-7 MRI FL",">7 MRI FL","hdr"], "range": ["#3d45a5","#cc3a3a","#4e8f4e","#3d45a5","#cc3a3a","#4e8f4e","#e59a2c","#404040"]}, "legend": null}}}
    ],
    "resolve": {"scale": {"x": "independent", "y": "independent"}}}
  ], "spacing": 0, "bounds": "flush"}
 ], "spacing": -1},
 {"vconcat": [
  {"title": {"text": "F", "orient": "left", "anchor": "end", "angle": 0, "align": "right", "baseline": "top", "offset": 3.2, "dy": -6.5, "frame": "group"},
   "vconcat": [
   {"hconcat": [
    {"width": 27, "height": 117, "data": {"values": [{"lab": "OS"}]}, "mark": {"type": "text", "fontSize": 6.5, "color": "#333"}, "encoding": {"text": {"field": "lab"}}},
    {"width": 201, "height": 117,
     "layer": [
      {"data": {"name": "ttl"}, "transform": [{"filter": "datum.p == 'FOS'"}], "mark": {"type": "text", "fontSize": 5.5, "dx": 3.5, "baseline": "middle", "align": "center", "color": "#444"},
       "encoding": {"y": {"field": "ln", "type": "quantitative", "scale": {"domain": [1, 2], "range": [3, 8], "nice": false, "zero": false}, "axis": null}, "text": {"field": "txt"}}},
      {"data": {"name": "km"}, "transform": [{"filter": "datum.p == 'FOS'"}], "mark": {"type": "line", "interpolate": "step-after", "strokeWidth": 0.8},
       "encoding": {"x": {"field": "t", "type": "quantitative", "scale": {"domain": [0, 8], "range": [28.7, 187.3], "nice": false, "zero": false}, "axis": {"values": [0,1,2,3,4,5,6,7,8], "labelExpr": "datum.value % 2 == 0 ? datum.label : ''", "title": "Years from Landmark", "offset": -17.3}},
        "y": {"field": "s", "type": "quantitative", "scale": {"domain": [0, 100], "range": [99.7, 13.7], "nice": false, "zero": false}, "axis": {"values": [0,20,40,60,80,100], "labelExpr": "datum.value + '%'", "title": null, "offset": -28.7}},
        "color": {"field": "g", "type": "nominal", "scale": {"domain": ["0 PET FL","1-3 PET FL",">3 PET FL","DHIM","0 MRI FL","1-7 MRI FL",">7 MRI FL","hdr"], "range": ["#3d45a5","#cc3a3a","#4e8f4e","#3d45a5","#cc3a3a","#4e8f4e","#e59a2c","#404040"]}, "legend": null}}},
      {"data": {"name": "cz"}, "transform": [{"filter": "datum.p == 'FOS'"}], "mark": {"type": "tick", "orient": "vertical", "size": 3, "thickness": 0.6},
       "encoding": {"x": {"field": "t", "type": "quantitative", "scale": {"domain": [0, 8], "range": [28.7, 187.3], "nice": false, "zero": false}, "axis": null},
        "y": {"field": "s", "type": "quantitative", "scale": {"domain": [0, 100], "range": [99.7, 13.7], "nice": false, "zero": false}, "axis": null},
        "color": {"field": "g", "type": "nominal", "scale": {"domain": ["0 PET FL","1-3 PET FL",">3 PET FL","DHIM","0 MRI FL","1-7 MRI FL",">7 MRI FL","hdr"], "range": ["#3d45a5","#cc3a3a","#4e8f4e","#3d45a5","#cc3a3a","#4e8f4e","#e59a2c","#404040"]}, "legend": null}}},
      {"data": {"name": "tb"}, "transform": [{"filter": "datum.p == 'FOS' && (datum.c == 0 || datum.c == 2)"}], "mark": {"type": "text", "align": "left", "baseline": "middle", "fontSize": 4.5},
       "encoding": {"x": {"field": "c", "type": "quantitative", "scale": {"domain": [0,1,2,3,4], "range": [30,80,96,114,86], "nice": false, "zero": false}, "axis": null},
        "y": {"field": "r", "type": "quantitative", "scale": {"domain": [0,1,2,3,4,5,6], "range": [71.5,76.3,80.8,85,89.2,93.4,97.4], "nice": false, "zero": false}, "axis": null},
        "text": {"field": "txt"},
        "color": {"field": "g", "type": "nominal", "scale": {"domain": ["0 PET FL","1-3 PET FL",">3 PET FL","DHIM","0 MRI FL","1-7 MRI FL",">7 MRI FL","hdr"], "range": ["#3d45a5","#cc3a3a","#4e8f4e","#3d45a5","#cc3a3a","#4e8f4e","#e59a2c","#404040"]}, "legend": null}}},
      {"data": {"name": "tb"}, "transform": [{"filter": "datum.p == 'FOS' && (datum.c == 1 || datum.c >= 3)"}], "mark": {"type": "text", "align": "center", "baseline": "middle", "fontSize": 4.5},
       "encoding": {"x": {"field": "c", "type": "quantitative", "scale": {"domain": [0,1,2,3,4], "range": [30,80,96,114,86], "nice": false, "zero": false}, "axis": null},
        "y": {"field": "r", "type": "quantitative", "scale": {"domain": [0,1,2,3,4,5,6], "range": [71.5,76.3,80.8,85,89.2,93.4,97.4], "nice": false, "zero": false}, "axis": null},
        "text": {"field": "txt"},
        "color": {"field": "g", "type": "nominal", "scale": {"domain": ["0 PET FL","1-3 PET FL",">3 PET FL","DHIM","0 MRI FL","1-7 MRI FL",">7 MRI FL","hdr"], "range": ["#3d45a5","#cc3a3a","#4e8f4e","#3d45a5","#cc3a3a","#4e8f4e","#e59a2c","#404040"]}, "legend": null}}}
     ],
     "resolve": {"scale": {"x": "independent", "y": "independent"}}}
   ], "spacing": 0, "bounds": "flush"},
   {"hconcat": [
    {"width": 27, "height": 113, "data": {"values": [{"lab": "PFS"}]}, "mark": {"type": "text", "fontSize": 6.5, "color": "#333"}, "encoding": {"text": {"field": "lab"}}},
    {"width": 201, "height": 113,
     "layer": [
      {"data": {"name": "ttl"}, "transform": [{"filter": "datum.p == 'FPFS'"}], "mark": {"type": "text", "fontSize": 5.5, "dx": 3.5, "baseline": "middle", "align": "center", "color": "#444"},
       "encoding": {"y": {"field": "ln", "type": "quantitative", "scale": {"domain": [1, 2], "range": [3.3, 8.3], "nice": false, "zero": false}, "axis": null}, "text": {"field": "txt"}}},
      {"data": {"name": "km"}, "transform": [{"filter": "datum.p == 'FPFS'"}], "mark": {"type": "line", "interpolate": "step-after", "strokeWidth": 0.8},
       "encoding": {"x": {"field": "t", "type": "quantitative", "scale": {"domain": [0, 8], "range": [28.7, 187.3], "nice": false, "zero": false}, "axis": {"values": [0,1,2,3,4,5,6,7,8], "labelExpr": "datum.value % 2 == 0 ? datum.label : ''", "title": "Years from Landmark", "offset": -14}},
        "y": {"field": "s", "type": "quantitative", "scale": {"domain": [0, 100], "range": [99, 12.7], "nice": false, "zero": false}, "axis": {"values": [0,20,40,60,80,100], "labelExpr": "datum.value + '%'", "title": null, "offset": -28.7}},
        "color": {"field": "g", "type": "nominal", "scale": {"domain": ["0 PET FL","1-3 PET FL",">3 PET FL","DHIM","0 MRI FL","1-7 MRI FL",">7 MRI FL","hdr"], "range": ["#3d45a5","#cc3a3a","#4e8f4e","#3d45a5","#cc3a3a","#4e8f4e","#e59a2c","#404040"]}, "legend": null}}},
      {"data": {"name": "cz"}, "transform": [{"filter": "datum.p == 'FPFS'"}], "mark": {"type": "tick", "orient": "vertical", "size": 3, "thickness": 0.6},
       "encoding": {"x": {"field": "t", "type": "quantitative", "scale": {"domain": [0, 8], "range": [28.7, 187.3], "nice": false, "zero": false}, "axis": null},
        "y": {"field": "s", "type": "quantitative", "scale": {"domain": [0, 100], "range": [99, 12.7], "nice": false, "zero": false}, "axis": null},
        "color": {"field": "g", "type": "nominal", "scale": {"domain": ["0 PET FL","1-3 PET FL",">3 PET FL","DHIM","0 MRI FL","1-7 MRI FL",">7 MRI FL","hdr"], "range": ["#3d45a5","#cc3a3a","#4e8f4e","#3d45a5","#cc3a3a","#4e8f4e","#e59a2c","#404040"]}, "legend": null}}},
      {"data": {"name": "tb"}, "transform": [{"filter": "datum.p == 'FPFS' && (datum.c == 0 || datum.c == 2)"}], "mark": {"type": "text", "align": "left", "baseline": "middle", "fontSize": 4.5},
       "encoding": {"x": {"field": "c", "type": "quantitative", "scale": {"domain": [0,1,2,3,4], "range": [30,80,96,114,86], "nice": false, "zero": false}, "axis": null},
        "y": {"field": "r", "type": "quantitative", "scale": {"domain": [0,1,2,3,4,5,6], "range": [64,69,73.8,78.2,82.6,87,94], "nice": false, "zero": false}, "axis": null},
        "text": {"field": "txt"},
        "color": {"field": "g", "type": "nominal", "scale": {"domain": ["0 PET FL","1-3 PET FL",">3 PET FL","DHIM","0 MRI FL","1-7 MRI FL",">7 MRI FL","hdr"], "range": ["#3d45a5","#cc3a3a","#4e8f4e","#3d45a5","#cc3a3a","#4e8f4e","#e59a2c","#404040"]}, "legend": null}}},
      {"data": {"name": "tb"}, "transform": [{"filter": "datum.p == 'FPFS' && (datum.c == 1 || datum.c >= 3)"}], "mark": {"type": "text", "align": "center", "baseline": "middle", "fontSize": 4.5},
       "encoding": {"x": {"field": "c", "type": "quantitative", "scale": {"domain": [0,1,2,3,4], "range": [30,80,96,114,86], "nice": false, "zero": false}, "axis": null},
        "y": {"field": "r", "type": "quantitative", "scale": {"domain": [0,1,2,3,4,5,6], "range": [64,69,73.8,78.2,82.6,87,94], "nice": false, "zero": false}, "axis": null},
        "text": {"field": "txt"},
        "color": {"field": "g", "type": "nominal", "scale": {"domain": ["0 PET FL","1-3 PET FL",">3 PET FL","DHIM","0 MRI FL","1-7 MRI FL",">7 MRI FL","hdr"], "range": ["#3d45a5","#cc3a3a","#4e8f4e","#3d45a5","#cc3a3a","#4e8f4e","#e59a2c","#404040"]}, "legend": null}}}
     ],
     "resolve": {"scale": {"x": "independent", "y": "independent"}}}
   ], "spacing": 0, "bounds": "flush"}
  ], "spacing": -1},
  {"title": {"text": "G", "orient": "left", "anchor": "end", "angle": 0, "align": "right", "baseline": "top", "offset": 1.5, "dy": -1, "frame": "group"},
   "vconcat": [
   {"hconcat": [
    {"width": 27, "height": 116, "data": {"values": [{"lab": "OS"}]}, "mark": {"type": "text", "fontSize": 6.5, "color": "#333"}, "encoding": {"text": {"field": "lab"}}},
    {"width": 201, "height": 116,
     "layer": [
      {"data": {"name": "ttl"}, "transform": [{"filter": "datum.p == 'GOS'"}], "mark": {"type": "text", "fontSize": 5.5, "dx": 5, "baseline": "middle", "align": "center", "color": "#444"},
       "encoding": {"y": {"field": "ln", "type": "quantitative", "scale": {"domain": [1, 2], "range": [12.2, 17.2], "nice": false, "zero": false}, "axis": null}, "text": {"field": "txt"}}},
      {"data": {"name": "km"}, "transform": [{"filter": "datum.p == 'GOS'"}], "mark": {"type": "line", "interpolate": "step-after", "strokeWidth": 0.8},
       "encoding": {"x": {"field": "t", "type": "quantitative", "scale": {"domain": [0, 8], "range": [28.7, 187.3], "nice": false, "zero": false}, "axis": {"values": [0,1,2,3,4,5,6,7,8], "labelExpr": "datum.value % 2 == 0 ? datum.label : ''", "title": "Years from Landmark", "offset": -20.7}},
        "y": {"field": "s", "type": "quantitative", "scale": {"domain": [0, 100], "range": [95.3, 21], "nice": false, "zero": false}, "axis": {"values": [0,20,40,60,80,100], "labelExpr": "datum.value + '%'", "title": null, "offset": -28.7}},
        "color": {"field": "g", "type": "nominal", "scale": {"domain": ["0 PET FL","1-3 PET FL",">3 PET FL","DHIM","0 MRI FL","1-7 MRI FL",">7 MRI FL","hdr"], "range": ["#3d45a5","#cc3a3a","#4e8f4e","#3d45a5","#cc3a3a","#4e8f4e","#e59a2c","#404040"]}, "legend": null}}},
      {"data": {"name": "cz"}, "transform": [{"filter": "datum.p == 'GOS'"}], "mark": {"type": "tick", "orient": "vertical", "size": 3, "thickness": 0.6},
       "encoding": {"x": {"field": "t", "type": "quantitative", "scale": {"domain": [0, 8], "range": [28.7, 187.3], "nice": false, "zero": false}, "axis": null},
        "y": {"field": "s", "type": "quantitative", "scale": {"domain": [0, 100], "range": [95.3, 21], "nice": false, "zero": false}, "axis": null},
        "color": {"field": "g", "type": "nominal", "scale": {"domain": ["0 PET FL","1-3 PET FL",">3 PET FL","DHIM","0 MRI FL","1-7 MRI FL",">7 MRI FL","hdr"], "range": ["#3d45a5","#cc3a3a","#4e8f4e","#3d45a5","#cc3a3a","#4e8f4e","#e59a2c","#404040"]}, "legend": null}}},
      {"data": {"name": "tb"}, "transform": [{"filter": "datum.p == 'GOS' && (datum.c == 0 || datum.c == 2)"}], "mark": {"type": "text", "align": "left", "baseline": "middle", "fontSize": 4.6},
       "encoding": {"x": {"field": "c", "type": "quantitative", "scale": {"domain": [0,1,2,3,4], "range": [30.7,72,102,123,88], "nice": false, "zero": false}, "axis": null},
        "y": {"field": "r", "type": "quantitative", "scale": {"domain": [0,1,2,3,4,5], "range": [69.8,74.4,79,83.3,87.6,91.8], "nice": false, "zero": false}, "axis": null},
        "text": {"field": "txt"},
        "color": {"field": "g", "type": "nominal", "scale": {"domain": ["0 PET FL","1-3 PET FL",">3 PET FL","DHIM","0 MRI FL","1-7 MRI FL",">7 MRI FL","hdr"], "range": ["#3d45a5","#cc3a3a","#4e8f4e","#3d45a5","#cc3a3a","#4e8f4e","#e59a2c","#404040"]}, "legend": null}}},
      {"data": {"name": "tb"}, "transform": [{"filter": "datum.p == 'GOS' && (datum.c == 1 || datum.c >= 3)"}], "mark": {"type": "text", "align": "center", "baseline": "middle", "fontSize": 4.6},
       "encoding": {"x": {"field": "c", "type": "quantitative", "scale": {"domain": [0,1,2,3,4], "range": [30.7,72,102,123,88], "nice": false, "zero": false}, "axis": null},
        "y": {"field": "r", "type": "quantitative", "scale": {"domain": [0,1,2,3,4,5], "range": [69.8,74.4,79,83.3,87.6,91.8], "nice": false, "zero": false}, "axis": null},
        "text": {"field": "txt"},
        "color": {"field": "g", "type": "nominal", "scale": {"domain": ["0 PET FL","1-3 PET FL",">3 PET FL","DHIM","0 MRI FL","1-7 MRI FL",">7 MRI FL","hdr"], "range": ["#3d45a5","#cc3a3a","#4e8f4e","#3d45a5","#cc3a3a","#4e8f4e","#e59a2c","#404040"]}, "legend": null}}}
     ],
     "resolve": {"scale": {"x": "independent", "y": "independent"}}}
   ], "spacing": 0, "bounds": "flush"},
   {"hconcat": [
    {"width": 27, "height": 115, "data": {"values": [{"lab": "PFS"}]}, "mark": {"type": "text", "fontSize": 6.5, "color": "#333"}, "encoding": {"text": {"field": "lab"}}},
    {"width": 201, "height": 115,
     "layer": [
      {"data": {"name": "ttl"}, "transform": [{"filter": "datum.p == 'GPFS'"}], "mark": {"type": "text", "fontSize": 5.5, "dx": 5, "baseline": "middle", "align": "center", "color": "#444"},
       "encoding": {"y": {"field": "ln", "type": "quantitative", "scale": {"domain": [1, 2], "range": [6, 11], "nice": false, "zero": false}, "axis": null}, "text": {"field": "txt"}}},
      {"data": {"name": "km"}, "transform": [{"filter": "datum.p == 'GPFS'"}], "mark": {"type": "line", "interpolate": "step-after", "strokeWidth": 0.8},
       "encoding": {"x": {"field": "t", "type": "quantitative", "scale": {"domain": [0, 8], "range": [28.7, 187.3], "nice": false, "zero": false}, "axis": {"values": [0,1,2,3,4,5,6,7,8], "labelExpr": "datum.value % 2 == 0 ? datum.label : ''", "title": "Years from Landmark", "offset": -15.7}},
        "y": {"field": "s", "type": "quantitative", "scale": {"domain": [0, 100], "range": [99.3, 16], "nice": false, "zero": false}, "axis": {"values": [0,20,40,60,80,100], "labelExpr": "datum.value + '%'", "title": null, "offset": -28.7}},
        "color": {"field": "g", "type": "nominal", "scale": {"domain": ["0 PET FL","1-3 PET FL",">3 PET FL","DHIM","0 MRI FL","1-7 MRI FL",">7 MRI FL","hdr"], "range": ["#3d45a5","#cc3a3a","#4e8f4e","#3d45a5","#cc3a3a","#4e8f4e","#e59a2c","#404040"]}, "legend": null}}},
      {"data": {"name": "cz"}, "transform": [{"filter": "datum.p == 'GPFS'"}], "mark": {"type": "tick", "orient": "vertical", "size": 3, "thickness": 0.6},
       "encoding": {"x": {"field": "t", "type": "quantitative", "scale": {"domain": [0, 8], "range": [28.7, 187.3], "nice": false, "zero": false}, "axis": null},
        "y": {"field": "s", "type": "quantitative", "scale": {"domain": [0, 100], "range": [99.3, 16], "nice": false, "zero": false}, "axis": null},
        "color": {"field": "g", "type": "nominal", "scale": {"domain": ["0 PET FL","1-3 PET FL",">3 PET FL","DHIM","0 MRI FL","1-7 MRI FL",">7 MRI FL","hdr"], "range": ["#3d45a5","#cc3a3a","#4e8f4e","#3d45a5","#cc3a3a","#4e8f4e","#e59a2c","#404040"]}, "legend": null}}},
      {"data": {"name": "tb"}, "transform": [{"filter": "datum.p == 'GPFS' && (datum.c == 0 || datum.c == 2)"}], "mark": {"type": "text", "align": "left", "baseline": "middle", "fontSize": 4.6},
       "encoding": {"x": {"field": "c", "type": "quantitative", "scale": {"domain": [0,1,2,3,4], "range": [30.7,72,102,123,88], "nice": false, "zero": false}, "axis": null},
        "y": {"field": "r", "type": "quantitative", "scale": {"domain": [0,1,2,3,4,5], "range": [72.7,77.5,82.4,86.8,91.1,95.4], "nice": false, "zero": false}, "axis": null},
        "text": {"field": "txt"},
        "color": {"field": "g", "type": "nominal", "scale": {"domain": ["0 PET FL","1-3 PET FL",">3 PET FL","DHIM","0 MRI FL","1-7 MRI FL",">7 MRI FL","hdr"], "range": ["#3d45a5","#cc3a3a","#4e8f4e","#3d45a5","#cc3a3a","#4e8f4e","#e59a2c","#404040"]}, "legend": null}}},
      {"data": {"name": "tb"}, "transform": [{"filter": "datum.p == 'GPFS' && (datum.c == 1 || datum.c >= 3)"}], "mark": {"type": "text", "align": "center", "baseline": "middle", "fontSize": 4.6},
       "encoding": {"x": {"field": "c", "type": "quantitative", "scale": {"domain": [0,1,2,3,4], "range": [30.7,72,102,123,88], "nice": false, "zero": false}, "axis": null},
        "y": {"field": "r", "type": "quantitative", "scale": {"domain": [0,1,2,3,4,5], "range": [72.7,77.5,82.4,86.8,91.1,95.4], "nice": false, "zero": false}, "axis": null},
        "text": {"field": "txt"},
        "color": {"field": "g", "type": "nominal", "scale": {"domain": ["0 PET FL","1-3 PET FL",">3 PET FL","DHIM","0 MRI FL","1-7 MRI FL",">7 MRI FL","hdr"], "range": ["#3d45a5","#cc3a3a","#4e8f4e","#3d45a5","#cc3a3a","#4e8f4e","#e59a2c","#404040"]}, "legend": null}}}
     ],
     "resolve": {"scale": {"x": "independent", "y": "independent"}}}
   ], "spacing": 0, "bounds": "flush"}
  ], "spacing": -1}
 ], "spacing": 8.5}
],
"spacing": 2.5
}
